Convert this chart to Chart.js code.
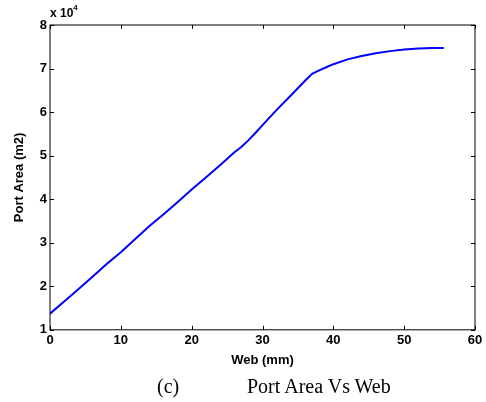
<!DOCTYPE html>
<html>
<head>
<meta charset="utf-8">
<script src="https://cdn.jsdelivr.net/npm/chart.js@4/dist/chart.umd.min.js"></script>
<style>
  html, body { margin: 0; padding: 0; background: #fff; }
  #wrap { position: relative; width: 486px; height: 402px; }
  .txt { position: absolute; white-space: nowrap; color: #000; }
  #mult { left: 50px; top: 5px; font: bold 12px "Liberation Sans", Arial, sans-serif; }
  #mult sup { font-size: 8px; position: relative; top: -2px; }
  .cap { font: 20px "Liberation Serif", "Times New Roman", serif; line-height: 20px; top: 376px; }
</style>
</head>
<body>
<div id="wrap">
  <canvas id="chart" width="486" height="402"></canvas>
  <div class="txt" id="mult">x 10<sup>4</sup></div>
  <div class="txt cap" style="left:157px">(c)</div>
  <div class="txt cap" style="left:247px">Port Area Vs Web</div>
</div>
<script>
// Web (mm) and port area (m2)
const web = [0, 2, 4, 6, 8, 10, 12, 14, 16, 18, 20, 22, 24, 26, 27, 28, 29, 30, 32, 34, 36, 37, 38, 39, 40, 42, 44, 46, 48, 50, 52, 54, 55.6];
const portArea = [13700, 16500, 19300, 22200, 25100, 27800, 30800, 33800, 36500, 39300, 42200, 45000, 47800, 50700, 52000, 53500, 55200, 57000, 60500, 63800, 67200, 68800, 69600, 70300, 71000, 72100, 72900, 73500, 74000, 74400, 74600, 74700, 74700];
const xTicks = [0, 10, 20, 30, 40, 50, 60];
const yTicks = [10000, 20000, 30000, 40000, 50000, 60000, 70000, 80000];

const tickFont = { family: "'Liberation Sans', Arial, sans-serif", size: 13, weight: "bold" };
const titleFont = { family: "'Liberation Sans', Arial, sans-serif", size: 13, weight: "bold" };

// box round the plot with inward ticks, like matlab
const boxPlugin = {
  id: "box",
  afterDraw(chart) {
    const { ctx, chartArea: a, scales } = chart;
    ctx.save();
    ctx.strokeStyle = "#000";
    ctx.lineWidth = 1;
    ctx.strokeRect(a.left, a.top, a.right - a.left, a.bottom - a.top);
    ctx.beginPath();
    xTicks.forEach((v) => {
      const px = Math.round(scales.x.getPixelForValue(v)) + 0.5;
      ctx.moveTo(px, a.bottom); ctx.lineTo(px, a.bottom - 4);
      ctx.moveTo(px, a.top); ctx.lineTo(px, a.top + 4);
    });
    yTicks.forEach((v) => {
      const py = Math.round(scales.y.getPixelForValue(v)) + 0.5;
      ctx.moveTo(a.left, py); ctx.lineTo(a.left + 4, py);
      ctx.moveTo(a.right, py); ctx.lineTo(a.right - 4, py);
    });
    ctx.stroke();
    ctx.restore();
  },
};

new Chart(document.getElementById("chart"), {
  type: "line",
  data: {
    datasets: [
      {
        data: web.map((w, i) => ({ x: w, y: portArea[i] })),
        borderColor: "#0000ff",
        borderWidth: 2,
        pointRadius: 0,
        tension: 0,
        fill: false,
      },
    ],
  },
  options: {
    responsive: false,
    animation: false,
    layout: { padding: { left: 0, right: 11, top: 25, bottom: 34 } },
    plugins: { legend: { display: false }, tooltip: { enabled: false } },
    scales: {
      x: {
        type: "linear",
        min: 0,
        max: 60,
        afterBuildTicks: (s) => { s.ticks = xTicks.map((v) => ({ value: v })); },
        ticks: { font: tickFont, color: "#000", padding: 3, maxRotation: 0 },
        grid: { display: false, drawTicks: false },
        border: { display: false },
        title: { display: true, text: "Web (mm)", font: titleFont, color: "#000", padding: { top: 1, bottom: 0 } },
      },
      y: {
        type: "linear",
        min: 10000,
        max: 80000,
        afterBuildTicks: (s) => { s.ticks = yTicks.map((v) => ({ value: v })); },
        afterFit: (s) => { s.width = 50; },
        ticks: { font: tickFont, color: "#000", padding: 3, callback: (v) => v / 10000 },
        grid: { display: false, drawTicks: false },
        border: { display: false },
        title: { display: true, text: "Port Area (m2)", font: titleFont, color: "#000", padding: { top: 12, bottom: 0 } },
      },
    },
  },
  plugins: [boxPlugin],
});
</script>
</body>
</html>
